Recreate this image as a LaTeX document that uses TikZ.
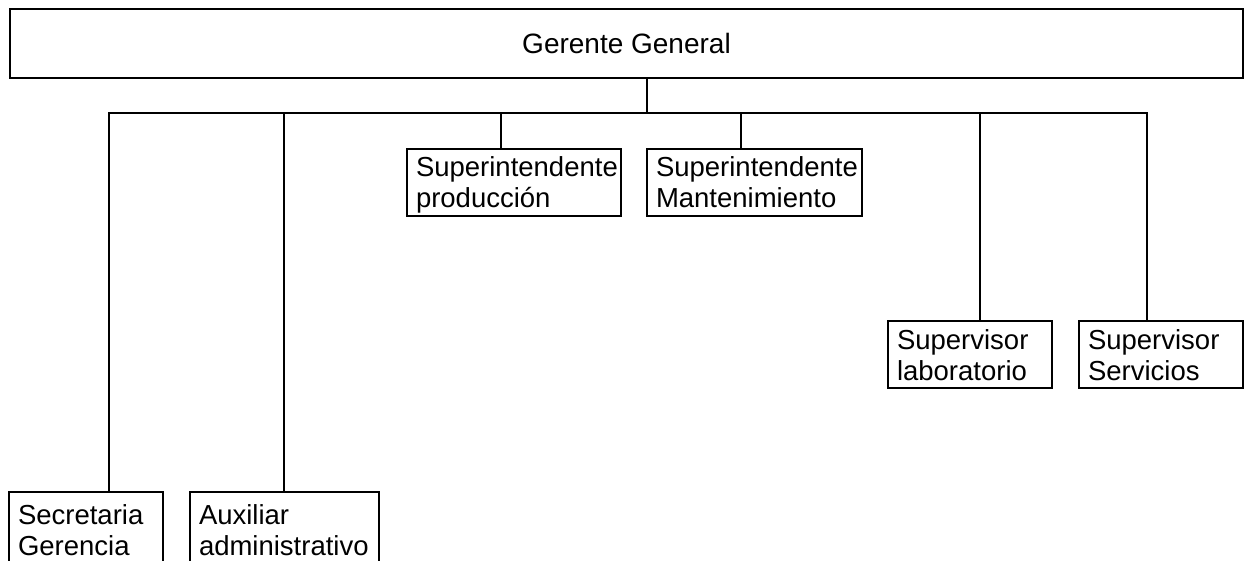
\documentclass[tikz,border=0pt]{standalone}
\usepackage{fontspec}
\setmainfont{Liberation Sans}
\begin{document}
\begin{tikzpicture}[x=1pt,y=-1pt,line width=2.2pt,
  topbox/.style={draw,line width=2.2pt,anchor=north west,outer sep=0pt,inner sep=0pt,
    font=\fontsize{28}{32}\selectfont},
  orgbox/.style={draw,line width=2.2pt,anchor=north west,outer sep=0pt,inner xsep=9pt,inner ysep=0pt,
    align=left,font=\fontsize{27.5}{31}\selectfont,text height=20pt,text depth=31pt},
  conn/.style={draw,line width=2.2pt,line join=miter}]
\useasboundingbox (0,0) rectangle (1246,561);
\clip (0,0) rectangle (1246,561);
\node[topbox,minimum width=1233pt,minimum height=69pt] (gg) at (10,9) {Gerente General};
\node[orgbox,minimum width=154pt,text width=136pt,minimum height=76pt] (sec) at (9,492) {Secretaria\\Gerencia};
\node[orgbox,minimum width=189pt,text width=171pt,minimum height=76pt,inner xsep=7pt] (aux) at (190,492) {Auxiliar\\administrativo};
\node[orgbox,minimum width=214pt,text width=196pt,minimum height=67pt] (sp) at (407,149) {Superintendente\\producción};
\node[orgbox,minimum width=215pt,text width=197pt,minimum height=67pt] (sm) at (647,149) {Superintendente\\Mantenimiento};
\node[orgbox,minimum width=164pt,text width=146pt,minimum height=67pt,inner xsep=6pt] (sl) at (888,321) {Supervisor\\laboratorio};
\node[orgbox,minimum width=164pt,text width=146pt,minimum height=67pt] (ss) at (1079,321) {Supervisor\\Servicios};
\coordinate (j) at (647,113);
\coordinate (b1) at (109,113);
\coordinate (b2) at (284,113);
\coordinate (b3) at (501,113);
\coordinate (b4) at (741,113);
\coordinate (b5) at (980,113);
\coordinate (b6) at (1147,113);
\draw[conn] (gg.south -| j) -- (j);
\draw[conn] (sec.north -| b1) -- (b1) -- (b6) -- (ss.north -| b6);
\draw[conn] (b2) -- (aux.north -| b2);
\draw[conn] (b3) -- (sp.north -| b3);
\draw[conn] (b4) -- (sm.north -| b4);
\draw[conn] (b5) -- (sl.north -| b5);
\end{tikzpicture}
\end{document}
